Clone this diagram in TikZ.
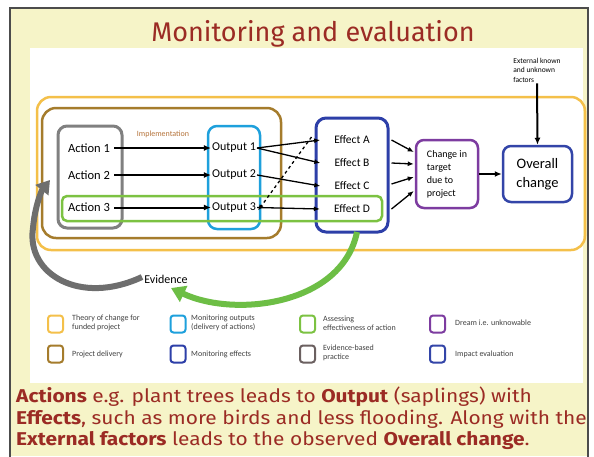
\documentclass[tikz,border=0pt]{standalone}
\usepackage{fontspec}
\setmainfont{Carlito}
\newfontfamily\comic{Fira Sans}
\newfontfamily\comicw[FakeStretch=1.13]{Fira Sans}
\usetikzlibrary{arrows.meta}
\definecolor{bgyellow}{HTML}{F6F4C8}
\definecolor{titlered}{HTML}{9B2B24}
\definecolor{tocC}{HTML}{F4C04A}
\definecolor{delivC}{HTML}{A57C2C}
\definecolor{actC}{HTML}{808080}
\definecolor{outC}{HTML}{1EA0DC}
\definecolor{assC}{HTML}{7CC242}
\definecolor{effC}{HTML}{2D3FA8}
\definecolor{dreamC}{HTML}{7D3CA0}
\definecolor{impC}{HTML}{3345A8}
\definecolor{evC}{HTML}{6B6060}
\definecolor{evArr}{HTML}{6E6E6E}
\definecolor{grArr}{HTML}{6DBE45}
\definecolor{implC}{HTML}{B5733A}
\definecolor{legT}{HTML}{404040}
\begin{document}
\begin{tikzpicture}[x=1pt,y=-1pt,
  frame/.style={draw, rounded corners=14pt, line width=2.5pt, inner sep=0pt},
  lab/.style={font=\fontsize{12.5}{14}\selectfont, inner sep=1pt},
  flow/.style={line width=2pt, -{Latex[length=7pt,width=6pt]}},
  thin/.style={line width=1.3pt, -{Latex[length=6pt,width=5pt]}},
  leg/.style={draw, rounded corners=3pt, line width=2pt, minimum width=15pt, minimum height=17pt, inner sep=0pt},
  legtxt/.style={anchor=west, align=left, font=\fontsize{8}{9}\selectfont, text=legT, inner sep=0pt},
  btxt/.style={anchor=west, font=\comicw\fontsize{18.5}{20}\selectfont, text=titlered, inner sep=0pt}
]
\useasboundingbox (0,0) rectangle (594,456);
% background
\fill[bgyellow] (10,8) rectangle (588,456);
\fill[white] (30,48) rectangle (583,383);
\draw[line width=1.2pt, black!70] (10,470) -- (10,8) -- (588,8) -- (588,470);

% title
\node[font=\comic\fontsize{27}{30}\selectfont, text=titlered] (title) at (313,34) {Monitoring and evaluation};

% frames
\node[frame, draw=tocC, minimum width=548pt, minimum height=153pt] (toc) at (311,173.5) {};
\node[frame, draw=delivC, minimum width=239pt, minimum height=130pt] (deliv) at (161.5,173) {};
\node[frame, draw=actC, line width=3pt, rounded corners=9pt, minimum width=64pt, minimum height=102pt] (act) at (90,177) {};
\node[frame, draw=outC, rounded corners=9pt, minimum width=52pt, minimum height=103pt] (out) at (234,177.5) {};
\node[frame, draw=effC, line width=3pt, rounded corners=10pt, minimum width=72pt, minimum height=114pt] (eff) at (352,175) {};
\node[frame, draw=assC, rounded corners=5pt, minimum width=320pt, minimum height=25pt] (ass) at (222,208.5) {};
\node[frame, draw=dreamC, rounded corners=8pt, minimum width=62pt, minimum height=68pt] (chg) at (447,174) {};
\node[frame, draw=impC, rounded corners=8pt, minimum width=69pt, minimum height=56pt] (ov) at (537.5,174) {};

% labels
\node[lab] (a1) at (89,148) {Action 1};
\node[lab] (a2) at (89,175) {Action 2};
\node[lab] (a3) at (89,207.5) {Action 3};
\node[lab, font=\fontsize{12}{14}\selectfont] (o1) at (234,148) {Output 1};
\node[lab, font=\fontsize{12}{14}\selectfont] (o2) at (234,175) {Output 2};
\node[lab, font=\fontsize{12}{14}\selectfont] (o3) at (234,207.5) {Output 3};
\node[font=\fontsize{8}{9}\selectfont, text=implC] (impl) at (163,134) {Implementation};
\node[lab, font=\fontsize{11.5}{14}\selectfont] (eA) at (352,140) {Effect A};
\node[lab, font=\fontsize{11.5}{14}\selectfont] (eB) at (352,163) {Effect B};
\node[lab, font=\fontsize{11.5}{14}\selectfont] (eC) at (352,186) {Effect C};
\node[lab, font=\fontsize{11.5}{14}\selectfont] (eD) at (352,209) {Effect D};
\node[align=left, font=\fontsize{10}{13}\selectfont, inner sep=0pt] (chgt) at (447,174) {Change in\\target\\due to\\project};
\node[align=center, font=\fontsize{14.5}{19}\selectfont, inner sep=0pt] (ovt) at (537.5,174) {Overall\\change};
\node[align=left, font=\fontsize{7.5}{9.5}\selectfont, inner sep=0pt] (ext) at (537,70) {External known\\and unknown\\factors};

% action -> output
\draw[flow] (a1.east) ++(3,0) -- (o1.west);
\draw[flow] (a2.east) ++(3,0) -- (o2.west);
\draw[flow] (a3.east) ++(3,0) -- (o3.west);

% output -> effect
\coordinate (tA) at ([xshift=-13]eA.west);
\coordinate (tB) at ([xshift=-13]eB.west);
\coordinate (tC) at ([xshift=-13]eC.west);
\coordinate (tD) at ([xshift=-13]eD.west);
\draw[thin] (o1.east) -- (tA);
\draw[thin] (o1.east) -- (tB);
\draw[thin] (o2.east) -- (tC);
\draw[thin] (o3.east) -- (tD);
\draw[thin, dashed] ([xshift=-3,yshift=3]eff.west |- eA) -- ([xshift=1,yshift=-3]o3.east);

% effect -> change
\coordinate (sA) at ([xshift=2]eff.east |- eA);
\coordinate (sB) at ([xshift=2]eff.east |- eB);
\coordinate (sC) at ([xshift=2,yshift=2]eff.east |- eC);
\coordinate (sD) at ([xshift=2]eff.east |- eD);
\draw[thin] (sA) -- ([xshift=-1]chg.west |- 0,152);
\draw[thin] (sB) -- ([xshift=-1]chg.west |- 0,164);
\draw[thin] (sC) -- ([xshift=-1]chg.west |- 0,177);
\draw[thin] (sD) -- ([xshift=-1]chg.west |- 0,191);
\draw[flow] (chg.east) -- (ov.west);
\draw[flow] ([yshift=-1]ext.south) -- (ov.north);

% evidence loop
\node[font=\fontsize{12}{14}\selectfont] (evid) at (166,279) {Evidence};
\draw[line width=6pt, evArr, -{Triangle[length=13pt,width=16pt]}] (142,277) .. controls (80,306) and (26,274) .. (33,228) .. controls (35,205) and (42,190) .. (50,180);
\draw[line width=6pt, grArr, -{Triangle[length=14pt,width=17pt]}] (357,232) .. controls (342,305) and (235,318) .. (171,288);

% legend
\node[leg, draw=tocC] (L1) at (55.5,324) {};
\node[leg, draw=outC] (L2) at (178,324) {};
\node[leg, draw=assC] (L3) at (307.5,324) {};
\node[leg, draw=dreamC] (L4) at (437.5,324) {};
\node[leg, draw=delivC] (L5) at (55.5,354) {};
\node[leg, draw=effC] (L6) at (178,354) {};
\node[leg, draw=evC] (L7) at (307.5,354) {};
\node[leg, draw=impC] (L8) at (437.5,354) {};
\node[legtxt] (T1) at (72,323) {Theory of change for\\funded project};
\node[legtxt] (T2) at (191,323) {Monitoring outputs\\(delivery of actions)};
\node[legtxt] (T3) at (323,323) {Assessing\\effectiveness of action};
\node[legtxt] (T4) at (455,323) {Dream i.e. unknowable};
\node[legtxt] (T5) at (72,354) {Project delivery};
\node[legtxt] (T6) at (191,354) {Monitoring effects};
\node[legtxt] (T7) at (323,353) {Evidence-based\\practice};
\node[legtxt] (T8) at (455,354) {Impact evaluation};

% bottom text
\node[btxt] (b1) at (16,397) {\textbf{Actions} e.g. plant trees leads to \textbf{Output} (saplings) with};
\node[btxt] (b2) at (16,419) {\textbf{Effects}, such as more birds and less flooding. Along with the};
\node[btxt] (b3) at (16,441) {\textbf{External factors} leads to the observed \textbf{Overall change}.};
\end{tikzpicture}
\end{document}
